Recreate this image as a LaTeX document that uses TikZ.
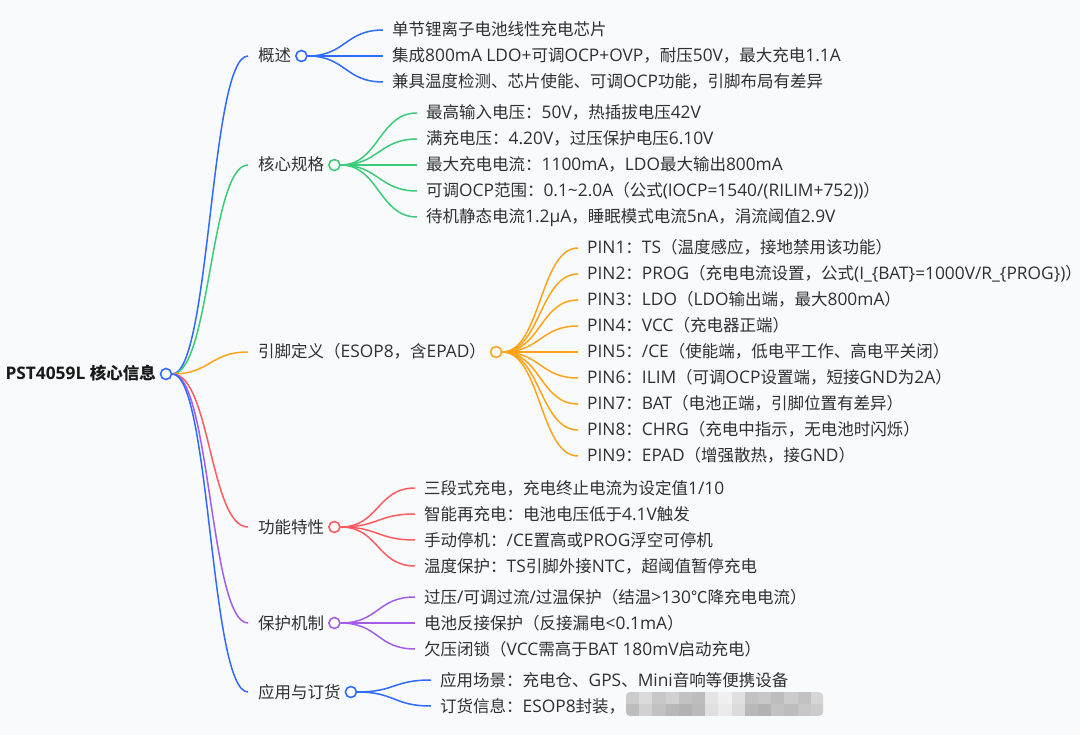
\documentclass[tikz,border=0pt]{standalone}
\usepackage{fontspec}
\setmainfont{Open Sans}[Scale=1.05]
\newfontfamily\LatinFont{Open Sans}[Scale=1.05]
\newfontfamily\CjkFont{Noto Sans CJK SC}

% switch to the CJK font for Chinese characters and full-width punctuation
\XeTeXinterchartokenstate=1
\newXeTeXintercharclass\CjkClass
\count255="4E00
\loop
  \XeTeXcharclass\count255=\CjkClass
  \ifnum\count255<"9FFF \advance\count255 by 1 \repeat
\count255="3000
\loop
  \XeTeXcharclass\count255=\CjkClass
  \ifnum\count255<"303F \advance\count255 by 1 \repeat
\count255="FF00
\loop
  \XeTeXcharclass\count255=\CjkClass
  \ifnum\count255<"FFEF \advance\count255 by 1 \repeat
\XeTeXcharclass"2103=\CjkClass
\XeTeXinterchartoks 0 \CjkClass = {\CjkFont}
\XeTeXinterchartoks 4095 \CjkClass = {\CjkFont}
\XeTeXinterchartoks \CjkClass 0 = {\LatinFont}
\XeTeXinterchartoks \CjkClass 4095 = {\LatinFont}

\definecolor{BgColor}{HTML}{F8FAFC}
\definecolor{TextColor}{HTML}{303030}
\definecolor{BlueLine}{HTML}{2F6BFF}
\definecolor{GreenLine}{HTML}{3CCB78}
\definecolor{OrangeLine}{HTML}{FFA31A}
\definecolor{RedLine}{HTML}{FF5C60}
\definecolor{PurpleLine}{HTML}{A35DE8}

\tikzset
{
  RootNodeStyle/.style =
  {
    anchor = east,
    inner xsep = 10pt,
    text height = 13pt,
    text depth = 1pt,
    font = \fontsize{16.5}{19}\selectfont\bfseries,
    text = black!90,
  },
  TopicNodeStyle/.style =
  {
    anchor = west,
    inner xsep = 10pt,
    text height = 13pt,
    text depth = 1pt,
    font = \fontsize{16.5}{19}\selectfont,
    text = TextColor,
  },
  LeafNodeStyle/.style =
  {
    anchor = west,
    inner xsep = 9pt,
    text height = 13pt,
    text depth = 1pt,
    font = \fontsize{16.5}{19}\selectfont,
    text = TextColor,
  },
  DotNodeStyle/.style =
  {
    shape = circle,
    minimum size = 11pt,
    inner sep = 0pt,
    fill = white,
    line width = 1.6pt,
  },
  LinkStyle/.style =
  {
    line width = 1.5pt,
    out = 0,
    in = 180,
    distance = 38pt,
  },
}

\begin{document}
\begin{tikzpicture}[x=1pt, y=-1pt]
  \useasboundingbox (0,0) rectangle (1080,735);
  \fill[BgColor] (0,0) rectangle (1080,735);

  % root
  \node[RootNodeStyle] (Root) at (166,374) {PST4059L 核心信息};
  \node[DotNodeStyle, draw=BlueLine] (RootDot) at (Root.east) {};

  % first level
  \node[TopicNodeStyle] (Overview) at (248,56) {概述};
  \node[DotNodeStyle, draw=BlueLine] (OverviewDot) at (Overview.east) {};
  \node[TopicNodeStyle] (Spec) at (248,165) {核心规格};
  \node[DotNodeStyle, draw=GreenLine] (SpecDot) at (Spec.east) {};
  \node[TopicNodeStyle] (Pins) at (248,352) {引脚定义（ESOP8，含EPAD）};
  \node[DotNodeStyle, draw=OrangeLine] (PinsDot) at (Pins.east) {};
  \node[TopicNodeStyle] (Func) at (248,527) {功能特性};
  \node[DotNodeStyle, draw=RedLine] (FuncDot) at (Func.east) {};
  \node[TopicNodeStyle] (Protect) at (248,623) {保护机制};
  \node[DotNodeStyle, draw=PurpleLine] (ProtectDot) at (Protect.east) {};
  \node[TopicNodeStyle] (Apply) at (248,692) {应用与订货};
  \node[DotNodeStyle, draw=BlueLine] (ApplyDot) at (Apply.east) {};

  \draw[LinkStyle, BlueLine] (RootDot) to (Overview);
  \draw[LinkStyle, GreenLine] (RootDot) to (Spec);
  \draw[LinkStyle, OrangeLine] (RootDot) to (Pins);
  \draw[LinkStyle, RedLine] (RootDot) to (Func);
  \draw[LinkStyle, PurpleLine] (RootDot) to (Protect);
  \draw[LinkStyle, BlueLine] (RootDot) to (Apply);

  % leaves
  \foreach \txt [count=\i from 0] in
  {
    {单节锂离子电池线性充电芯片},
    {集成800mA LDO+可调OCP+OVP，耐压50V，最大充电1.1A},
    {兼具温度检测、芯片使能、可调OCP功能，引脚布局有差异}
  }
  {
    \node[LeafNodeStyle] (ov-\i) at (383, 30+26*\i) {\txt};
    \draw[LinkStyle, BlueLine] (OverviewDot) to (ov-\i);
  }

  \foreach \txt [count=\i from 0] in
  {
    {最高输入电压：50V，热插拔电压42V},
    {满充电压：4.20V，过压保护电压6.10V},
    {最大充电电流：1100mA，LDO最大输出800mA},
    {可调OCP范围：0.1\textasciitilde2.0A（公式(IOCP=1540/(RILIM+752))）},
    {待机静态电流1.2μA，睡眠模式电流5nA，涓流阈值2.9V}
  }
  {
    \node[LeafNodeStyle] (sp-\i) at (417, 113+26*\i) {\txt};
    \draw[LinkStyle, GreenLine] (SpecDot) to (sp-\i);
  }

  \foreach \txt [count=\i from 0] in
  {
    {PIN1：TS（温度感应，接地禁用该功能）},
    {PIN2：PROG（充电电流设置，公式(I\_\{BAT\}=1000V/R\_\{PROG\})）},
    {PIN3：LDO（LDO输出端，最大800mA）},
    {PIN4：VCC（充电器正端）},
    {PIN5：/CE（使能端，低电平工作、高电平关闭）},
    {PIN6：ILIM（可调OCP设置端，短接GND为2A）},
    {PIN7：BAT（电池正端，引脚位置有差异）},
    {PIN8：CHRG（充电中指示，无电池时闪烁）},
    {PIN9：EPAD（增强散热，接GND）}
  }
  {
    \node[LeafNodeStyle] (pin-\i) at (578, 248+26*\i) {\txt};
    \draw[LinkStyle, OrangeLine] (PinsDot) to (pin-\i);
  }

  \foreach \txt [count=\i from 0] in
  {
    {三段式充电，充电终止电流为设定值1/10},
    {智能再充电：电池电压低于4.1V触发},
    {手动停机：/CE置高或PROG浮空可停机},
    {温度保护：TS引脚外接NTC，超阈值暂停充电}
  }
  {
    \node[LeafNodeStyle] (fn-\i) at (415, 488+26*\i) {\txt};
    \draw[LinkStyle, RedLine] (FuncDot) to (fn-\i);
  }

  \foreach \txt [count=\i from 0] in
  {
    {过压/可调过流/过温保护（结温>130℃降充电电流）},
    {电池反接保护（反接漏电<0.1mA）},
    {欠压闭锁（VCC需高于BAT 180mV启动充电）}
  }
  {
    \node[LeafNodeStyle] (pr-\i) at (415, 597+26*\i) {\txt};
    \draw[LinkStyle, PurpleLine] (ProtectDot) to (pr-\i);
  }

  \foreach \txt [count=\i from 0] in
  {
    {应用场景：充电仓、GPS、Mini音响等便携设备},
    {订货信息：ESOP8封装，}
  }
  {
    \node[LeafNodeStyle] (ap-\i) at (431, 680+26*\i) {\txt};
    \draw[LinkStyle, BlueLine] (ApplyDot) to (ap-\i);
  }

  % blurred part of the order text
  \begin{scope}
    \clip[rounded corners=4pt] (626,692) rectangle (823,716);
    \foreach \g [count=\i from 0] in {20,14,22,18,24,26,10,6,12,24,22,26,20,24,16}
    {
      \fill[black!\g] (626+13.2*\i,692) rectangle ++(13.2,12);
    }
    \foreach \g [count=\i from 0] in {26,18,24,28,30,27,12,8,14,28,30,24,26,22,20}
    {
      \fill[black!\g] (626+13.2*\i,704) rectangle ++(13.2,12);
    }
  \end{scope}
\end{tikzpicture}
\end{document}
